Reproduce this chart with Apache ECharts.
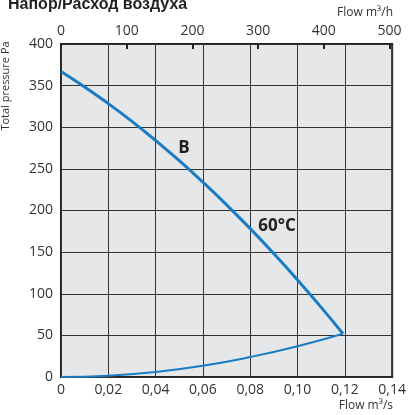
<!DOCTYPE html>
<html><head><meta charset="utf-8">
<script src="https://cdn.jsdelivr.net/npm/echarts@6/dist/echarts.min.js"></script>
<style>html,body{margin:0;padding:0;background:#fff}#c{width:409px;height:415px}</style>
</head><body><div id="c"></div>
<script>
// Fan curve (60°C): flow m3/s, pressure Pa
const fanFlow = [0, 0.01, 0.02, 0.03, 0.04, 0.05, 0.06, 0.07, 0.08, 0.09, 0.10, 0.11, 0.1192];
const fanPressure = [367, 348.4, 328.4, 307, 284.1, 259.8, 234, 206.8, 178.2, 148.1, 116.6, 83.6, 52];
// System curve
const sysFlow = [0, 0.02, 0.04, 0.06, 0.08, 0.10, 0.1192];
const sysPressure = [0, 1.5, 6, 13.5, 24, 37, 52];
const xTicksBottom = [0, 0.02, 0.04, 0.06, 0.08, 0.10, 0.12, 0.14];
const xTicksTop = [0, 100, 200, 300, 400, 500];
const yTicks = [0, 50, 100, 150, 200, 250, 300, 350, 400];

const font = '"Open Sans", sans-serif';
const blue = '#1a7dc3';
const chart = echarts.init(document.getElementById('c'));
chart.setOption({
  animation: false,
  grid: {left: 61, right: 15, top: 44, bottom: 38, show: true, backgroundColor: '#e6e7e9', borderColor: '#222', borderWidth: 2},
  xAxis: [
    {type: 'value', min: 0, max: 0.14, interval: 0.02, position: 'bottom',
     axisLine: {show: false}, axisTick: {show: false},
     splitLine: {show: true, lineStyle: {color: '#333', width: 1}},
     axisLabel: {margin: 6, color: '#333', fontSize: 14, fontFamily: font,
       formatter: v => v === 0 ? '0' : v.toFixed(2).replace('.', ',')}},
    {type: 'value', min: 0, max: 504, interval: 100, position: 'top',
     axisLine: {show: false}, splitLine: {show: false},
     axisTick: {show: true, inside: true, length: 5, lineStyle: {color: '#222', width: 2}},
     axisLabel: {margin: 6, color: '#333', fontSize: 14, fontFamily: font, showMaxLabel: false,
       formatter: v => xTicksTop.includes(v) ? String(v) : ''}}
  ],
  yAxis: {type: 'value', min: 0, max: 400, interval: 50,
    axisLine: {show: false}, axisTick: {show: false},
    splitLine: {show: true, lineStyle: {color: '#333', width: 1}},
    axisLabel: {margin: 8, color: '#333', fontSize: 14, fontFamily: font}},
  series: [
    {type: 'line', xAxisIndex: 0, smooth: true, showSymbol: false,
     lineStyle: {color: blue, width: 3}, data: fanFlow.map((f, i) => [f, fanPressure[i]])},
    {type: 'line', xAxisIndex: 0, smooth: true, showSymbol: false,
     lineStyle: {color: blue, width: 2}, data: sysFlow.map((f, i) => [f, sysPressure[i]])}
  ],
  graphic: [
    {type: 'text', left: 8, top: -3, style: {text: 'Напор/Расход воздуха', font: 'bold 16px "Liberation Sans", Arial, sans-serif', fill: '#222'}},
    {type: 'text', right: 16, top: 7, style: {text: 'Flow m³/h', font: '12px ' + font, fill: '#333'}},
    {type: 'text', right: 16, top: 400, style: {text: 'Flow m³/s', font: '12px ' + font, fill: '#333'}},
    {type: 'text', x: 6, y: 86, rotation: Math.PI / 2, style: {text: 'Total pressure Pa', font: '11px ' + font, fill: '#333', align: 'center', verticalAlign: 'middle'}},
    {type: 'text', x: 184, y: 148, style: {text: 'B', font: 'bold 17px ' + font, fill: '#222', align: 'center', verticalAlign: 'middle'}},
    {type: 'text', x: 277, y: 226, style: {text: '60°C', font: 'bold 17px ' + font, fill: '#222', align: 'center', verticalAlign: 'middle'}}
  ]
});
</script></body></html>
